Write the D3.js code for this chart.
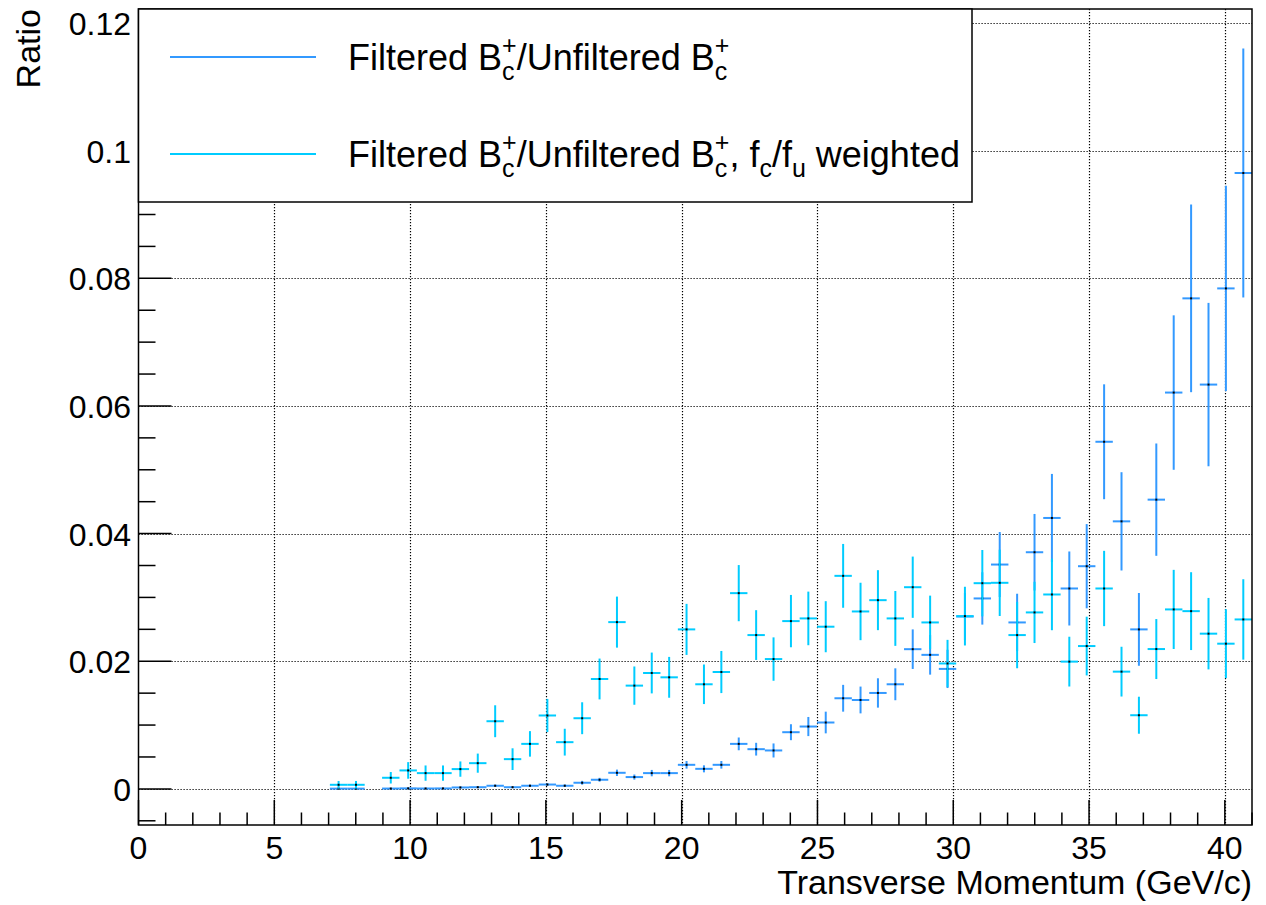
<!DOCTYPE html>
<html>
<head>
<meta charset="utf-8">
<script src="https://cdn.jsdelivr.net/npm/d3@7"></script>
<style>
  body { margin: 0; background: #fff; }
  text { font-family: "Liberation Sans", Arial, sans-serif; fill: #000; }
</style>
</head>
<body>
<div id="container"></div>
<script>
// Chart size and frame margins.
const width = 1266;
const height = 905;
const marginTop = 9;
const marginRight = 14;
const marginBottom = 80;
const marginLeft = 138.5;

// Histogram binning: 64 bins from 0 to 41 GeV/c, filled from bin 11 on.
const nBins = 64;
const xMax = 41;
const firstBin = 11;

// Filtered/Unfiltered (blue)
const ratio = [0.00004, 0.00004, null, 0.00005, 0.00008, 0.00006, 0.00007, 0.00022, 0.00026, 0.00049,
  0.00026, 0.00049, 0.00068, 0.00049, 0.00096, 0.00143, 0.00252, 0.00185, 0.00247, 0.00247,
  0.00377, 0.00314, 0.00377, 0.00705, 0.00622, 0.00602, 0.00888, 0.00977, 0.0104, 0.0142,
  0.01393, 0.01503, 0.01639, 0.02189, 0.021, 0.0188, 0.027, 0.02984, 0.03515, 0.02608,
  0.03708, 0.04245, 0.0314, 0.03489, 0.05439, 0.04192, 0.02499, 0.04532, 0.0621, 0.07686,
  0.06335, 0.07842, 0.0965];
const ratioErr = [0.00005, 0.00005, null, 0.00006, 0.00008, 0.00007, 0.00007, 0.00012, 0.00012, 0.00018,
  0.00012, 0.00018, 0.0002, 0.0002, 0.0003, 0.0003, 0.0005, 0.0004, 0.0005, 0.0005,
  0.0006, 0.00055, 0.0006, 0.001, 0.001, 0.0011, 0.00125, 0.0015, 0.0017, 0.0021,
  0.0021, 0.0023, 0.0025, 0.0031, 0.0031, 0.003, 0.0037, 0.0041, 0.0051, 0.0045,
  0.006, 0.0069, 0.0058, 0.0066, 0.009, 0.0077, 0.0057, 0.0088, 0.0121, 0.0147,
  0.0128, 0.0161, 0.0195];

// Filtered/Unfiltered, fc/fu weighted (cyan)
const weighted = [0.00064, 0.00064, null, 0.00174, 0.00289, 0.00247, 0.00247, 0.0031, 0.00403, 0.0106,
  0.00466, 0.00705, 0.0115, 0.00732, 0.01107, 0.01722, 0.02613, 0.01618, 0.01816, 0.01748,
  0.02499, 0.01639, 0.01831, 0.03067, 0.0241, 0.02034, 0.02629, 0.02671, 0.02541, 0.03338,
  0.0278, 0.02957, 0.02671, 0.0316, 0.02608, 0.01965, 0.02707, 0.03223, 0.03229, 0.0241,
  0.02765, 0.03046, 0.01994, 0.02238, 0.0314, 0.01837, 0.01154, 0.02191, 0.02812, 0.02785,
  0.02432, 0.02275, 0.02655];
const weightedErr = [0.0006, 0.0006, null, 0.0009, 0.0013, 0.0012, 0.0012, 0.0012, 0.0015, 0.0025,
  0.0017, 0.002, 0.0026, 0.0021, 0.0025, 0.0032, 0.004, 0.003, 0.0032, 0.0032,
  0.004, 0.0031, 0.0033, 0.0044, 0.0039, 0.0034, 0.0041, 0.0042, 0.004, 0.005,
  0.0045, 0.0047, 0.0043, 0.0048, 0.0042, 0.0037, 0.0046, 0.0052, 0.0052, 0.0052,
  0.0048, 0.0056, 0.0039, 0.0046, 0.0059, 0.0039, 0.0029, 0.0047, 0.0062, 0.0061,
  0.0056, 0.0054, 0.0063];

const xTicks = [0, 5, 10, 15, 20, 25, 30, 35, 40];
const yTicks = [0, 0.02, 0.04, 0.06, 0.08, 0.1, 0.12];

const series = [
  { name: "blue", values: ratio, errors: ratioErr, color: "#3399ff" },
  { name: "cyan", values: weighted, errors: weightedErr, color: "#00ccff" }
];

// Scales.
const x = d3.scaleLinear()
  .domain([0, xMax])
  .range([marginLeft, width - marginRight]);

const y = d3.scaleLinear()
  .domain([-0.00566, 0.1222])
  .range([height - marginBottom, marginTop]);

const binWidth = xMax / nBins;

const svg = d3.create("svg")
  .attr("width", width)
  .attr("height", height)
  .attr("viewBox", [0, 0, width, height]);

svg.append("defs").append("clipPath").attr("id", "frame")
  .append("rect")
  .attr("x", x(0)).attr("y", y.range()[1])
  .attr("width", x(xMax) - x(0)).attr("height", y.range()[0] - y.range()[1]);

// Dotted grid at the major ticks.
const grid = svg.append("g")
  .attr("stroke", "#000")
  .attr("stroke-width", 1.2)
  .attr("stroke-dasharray", "1.2,1.8");
grid.selectAll(".vx").data(xTicks.filter(d => d > 0)).join("line")
  .attr("x1", d => Math.round(x(d)) + 0.5).attr("x2", d => Math.round(x(d)) + 0.5)
  .attr("y1", y.range()[1]).attr("y2", y.range()[0]);
grid.selectAll(".hy").data(yTicks).join("line")
  .attr("x1", x(0)).attr("x2", x(xMax))
  .attr("y1", d => Math.round(y(d)) + 0.5).attr("y2", d => Math.round(y(d)) + 0.5);

// Error-bar crosses.
const plot = svg.append("g").attr("clip-path", "url(#frame)");
for (const s of series) {
  const pts = s.values.map((v, i) => ({ bin: firstBin + i, v, e: s.errors[i] }))
    .filter(d => d.v !== null);
  const g = plot.append("g")
    .attr("stroke", s.color)
    .attr("stroke-width", 2);
  g.selectAll(".h").data(pts).join("line")
    .attr("x1", d => x(d.bin * binWidth))
    .attr("x2", d => x((d.bin + 1) * binWidth))
    .attr("y1", d => y(d.v)).attr("y2", d => y(d.v));
  g.selectAll(".v").data(pts).join("line")
    .attr("x1", d => x((d.bin + 0.5) * binWidth))
    .attr("x2", d => x((d.bin + 0.5) * binWidth))
    .attr("y1", d => y(d.v - d.e)).attr("y2", d => y(d.v + d.e));
  plot.append("g").selectAll("rect").data(pts).join("rect")
    .attr("x", d => x((d.bin + 0.5) * binWidth) - 1)
    .attr("y", d => y(d.v) - 1)
    .attr("width", 2).attr("height", 2)
    .attr("fill", "#000");
}

// Ticks along the bottom and left frame edges.
const ticks = svg.append("g").attr("stroke", "#000").attr("stroke-width", 1.5);
const xb = y.range()[0];
ticks.selectAll(".xm").data(d3.range(0, xMax + 0.01, 1)).join("line")
  .attr("x1", d => x(d)).attr("x2", d => x(d))
  .attr("y1", xb).attr("y2", d => xb - (d % 5 === 0 ? 25 : 12.5));
ticks.selectAll(".ym").data(d3.range(-0.005, 0.1201, 0.005)).join("line")
  .attr("x1", x(0))
  .attr("x2", d => x(0) + (Math.abs(d / 0.02 - Math.round(d / 0.02)) < 1e-6 ? 33 : 17))
  .attr("y1", d => y(d)).attr("y2", d => y(d));

// Frame.
svg.append("rect")
  .attr("x", x(0)).attr("y", y.range()[1])
  .attr("width", x(xMax) - x(0)).attr("height", y.range()[0] - y.range()[1])
  .attr("fill", "none").attr("stroke", "#000").attr("stroke-width", 1.5);

// Tick labels.
svg.append("g").attr("font-size", 32).attr("text-anchor", "middle")
  .selectAll("text").data(xTicks).join("text")
  .attr("x", d => x(d)).attr("y", xb + 34)
  .text(d => d);
svg.append("g").attr("font-size", 32).attr("text-anchor", "end")
  .selectAll("text").data(yTicks).join("text")
  .attr("x", 131).attr("y", d => y(d) + 12)
  .text(d => String(+d.toFixed(2)));

// Axis titles.
svg.append("text")
  .attr("x", x(xMax)).attr("y", 894)
  .attr("text-anchor", "end").attr("font-size", 34)
  .text("Transverse Momentum (GeV/c)");
svg.append("text")
  .attr("transform", `translate(40,${y.range()[1]}) rotate(-90)`)
  .attr("text-anchor", "end").attr("font-size", 34)
  .text("Ratio");

// Legend.
const legend = svg.append("g");
legend.append("rect")
  .attr("x", x(0)).attr("y", y.range()[1])
  .attr("width", 972 - x(0)).attr("height", 202 - y.range()[1])
  .attr("fill", "#fff").attr("stroke", "#000").attr("stroke-width", 1.5);

function bc(t) {
  // B with stacked subscript c and superscript +
  t.append("tspan").text("B");
  t.append("tspan").attr("font-size", 25).attr("dy", 10).text("c");
  t.append("tspan").attr("font-size", 25).attr("dx", -12.5).attr("dy", -26).text("+");
  return t.append("tspan").attr("dy", 16);
}

const entries = [
  { color: series[0].color, ly: 57 },
  { color: series[1].color, ly: 154 }
];
legend.selectAll("line").data(entries).join("line")
  .attr("x1", 170).attr("x2", 316)
  .attr("y1", d => d.ly).attr("y2", d => d.ly)
  .attr("stroke", d => d.color).attr("stroke-width", 2);

const t1 = legend.append("text").attr("x", 348).attr("y", 70).attr("font-size", 36);
t1.append("tspan").text("Filtered ");
bc(t1).text("/Unfiltered ");
bc(t1);

const t2 = legend.append("text").attr("x", 348).attr("y", 167).attr("font-size", 36);
t2.append("tspan").text("Filtered ");
bc(t2).text("/Unfiltered ");
bc(t2).text(", f");
t2.append("tspan").attr("font-size", 25).attr("dy", 10).text("c");
t2.append("tspan").attr("dy", -10).text("/f");
t2.append("tspan").attr("font-size", 25).attr("dy", 10).text("u");
t2.append("tspan").attr("dy", -10).text(" weighted");

document.getElementById("container").append(svg.node());
</script>
</body>
</html>
